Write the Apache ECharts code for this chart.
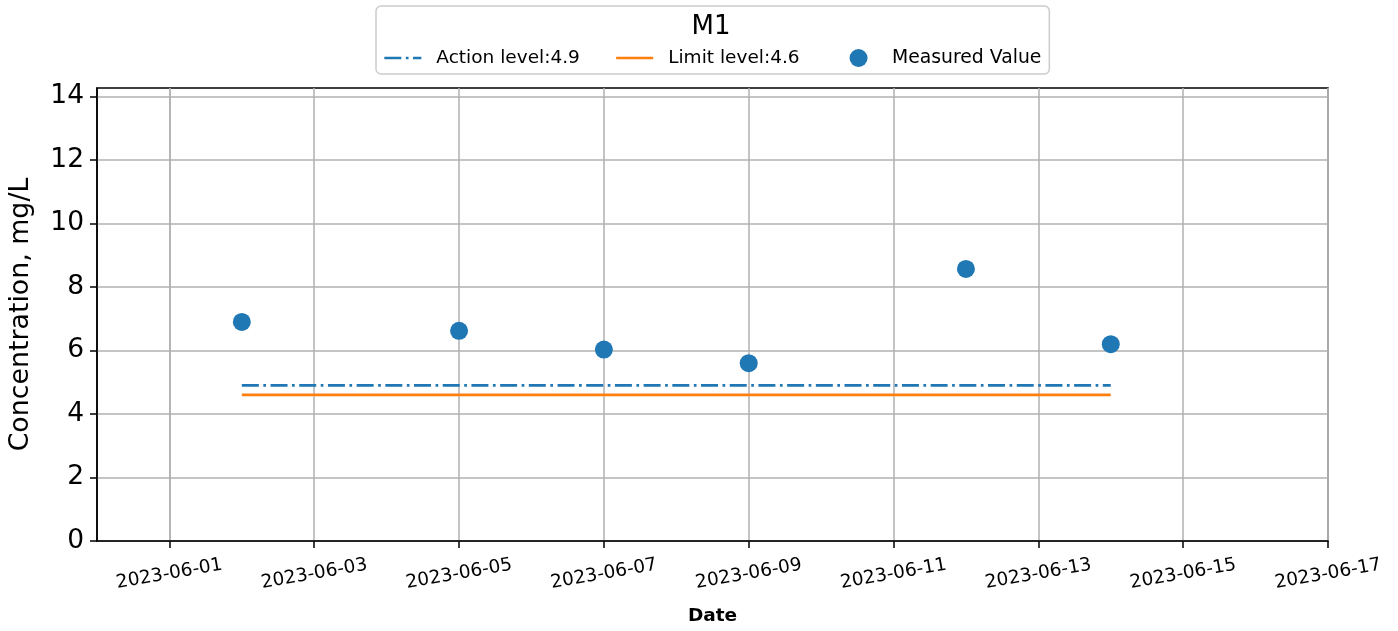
<!DOCTYPE html>
<html>
<head>
<meta charset="utf-8">
<script src="https://cdn.jsdelivr.net/npm/echarts@6/dist/echarts.min.js"></script>
<style>
  html, body { margin: 0; padding: 0; background: #fff; }
  #chart { width: 1398px; height: 631px; }
</style>
</head>
<body>
<div id="chart"></div>
<script>
// Data
const measuredDates = ['2023-06-02', '2023-06-05', '2023-06-07', '2023-06-09', '2023-06-12', '2023-06-14'];
const measuredValues = [6.9, 6.62, 6.03, 5.6, 8.57, 6.2];
const levelDates = ['2023-06-02', '2023-06-14'];
const actionLevel = [4.9, 4.9];
const limitLevel = [4.6, 4.6];
const xTicks = ['2023-06-01', '2023-06-03', '2023-06-05', '2023-06-07', '2023-06-09',
  '2023-06-11', '2023-06-13', '2023-06-15', '2023-06-17'];
const yTicks = [0, 2, 4, 6, 8, 10, 12, 14];
const seriesNames = ['Action level:4.9', 'Limit level:4.6', 'Measured Value'];

const FONT = 'DejaVu Sans';
const BLUE = '#1f77b4';
const ORANGE = '#ff7f0e';

const chart = echarts.init(document.getElementById('chart'), null, { renderer: 'canvas' });

const zip = (xs, ys) => xs.map((x, i) => [x, ys[i]]);

// legend line items: hide the symbol ECharts puts in the middle of the line icon
const noSymbol = { opacity: 0 };

chart.setOption({
  animation: false,
  backgroundColor: '#fff',
  textStyle: { fontFamily: FONT },
  title: {
    text: 'M1',
    left: 706,
    top: 9,
    textAlign: 'center',
    textStyle: { fontFamily: FONT, fontSize: 26, fontWeight: 'normal', color: '#000' }
  },
  legend: {
    data: [
      { name: seriesNames[0], itemStyle: noSymbol },
      { name: seriesNames[1], itemStyle: noSymbol, textStyle: { padding: [0, 15, 0, 10] } },
      { name: seriesNames[2], icon: 'circle', textStyle: { fontSize: 18.8 } }
    ],
    left: 376,
    top: 6,
    orient: 'horizontal',
    padding: [41, 8, 5, 7],
    itemGap: 35,
    itemWidth: 37,
    itemHeight: 18,
    borderColor: '#cccccc',
    borderWidth: 1.5,
    borderRadius: 5,
    backgroundColor: '#fff',
    lineStyle: { width: 2.7 },
    textStyle: {
      fontFamily: FONT,
      fontSize: 18.5,
      color: '#000',
      lineHeight: 22,
      padding: [0, 0, 0, 10]
    }
  },
  grid: {
    left: 97,
    right: 70,
    top: 88,
    bottom: 88,
    show: true,
    borderColor: '#000',
    borderWidth: 1.5,
    containLabel: false
  },
  xAxis: {
    type: 'time',
    min: '2023-05-31',
    max: '2023-06-17',
    name: 'Date',
    nameLocation: 'middle',
    nameGap: 66,
    nameTextStyle: { fontFamily: FONT, fontSize: 18.5, fontWeight: 'bold', color: '#000' },
    axisLine: { show: true, lineStyle: { color: '#000', width: 1.5 } },
    axisTick: {
      show: true,
      customValues: xTicks,
      length: 7,
      lineStyle: { color: '#000', width: 1.5 }
    },
    axisLabel: {
      customValues: xTicks,
      rotate: 10,
      align: 'center',
      verticalAlign: 'middle',
      margin: 33,
      fontFamily: FONT,
      fontSize: 18.5,
      color: '#000',
      formatter: '{yyyy}-{MM}-{dd}'
    },
    splitLine: { show: true, lineStyle: { color: '#b0b0b0', width: 1.5 } }
  },
  yAxis: {
    type: 'value',
    min: 0,
    max: 14.27,
    name: 'Concentration, mg/L',
    nameLocation: 'middle',
    nameGap: 62,
    nameTextStyle: { fontFamily: FONT, fontSize: 26.8, color: '#000' },
    axisLine: { show: true, lineStyle: { color: '#000', width: 1.5 } },
    axisTick: {
      show: true,
      customValues: yTicks,
      length: 7,
      lineStyle: { color: '#000', width: 1.5 }
    },
    axisLabel: {
      customValues: yTicks,
      margin: 13,
      fontFamily: FONT,
      fontSize: 26.5,
      color: '#000'
    },
    splitLine: { show: true, lineStyle: { color: '#b0b0b0', width: 1.5 } }
  },
  series: [
    {
      name: seriesNames[0],
      type: 'line',
      data: zip(levelDates, actionLevel),
      symbol: 'none',
      lineStyle: { color: BLUE, width: 2.7, type: [17, 4.5, 2.7, 4.5], cap: 'butt' },
      itemStyle: { color: BLUE },
      z: 3
    },
    {
      name: seriesNames[1],
      type: 'line',
      data: zip(levelDates, limitLevel),
      symbol: 'none',
      lineStyle: { color: ORANGE, width: 2.7 },
      itemStyle: { color: ORANGE },
      z: 3
    },
    {
      name: seriesNames[2],
      type: 'scatter',
      data: zip(measuredDates, measuredValues),
      symbol: 'circle',
      symbolSize: 18,
      itemStyle: { color: BLUE, opacity: 1 },
      z: 4
    }
  ]
});
</script>
</body>
</html>
